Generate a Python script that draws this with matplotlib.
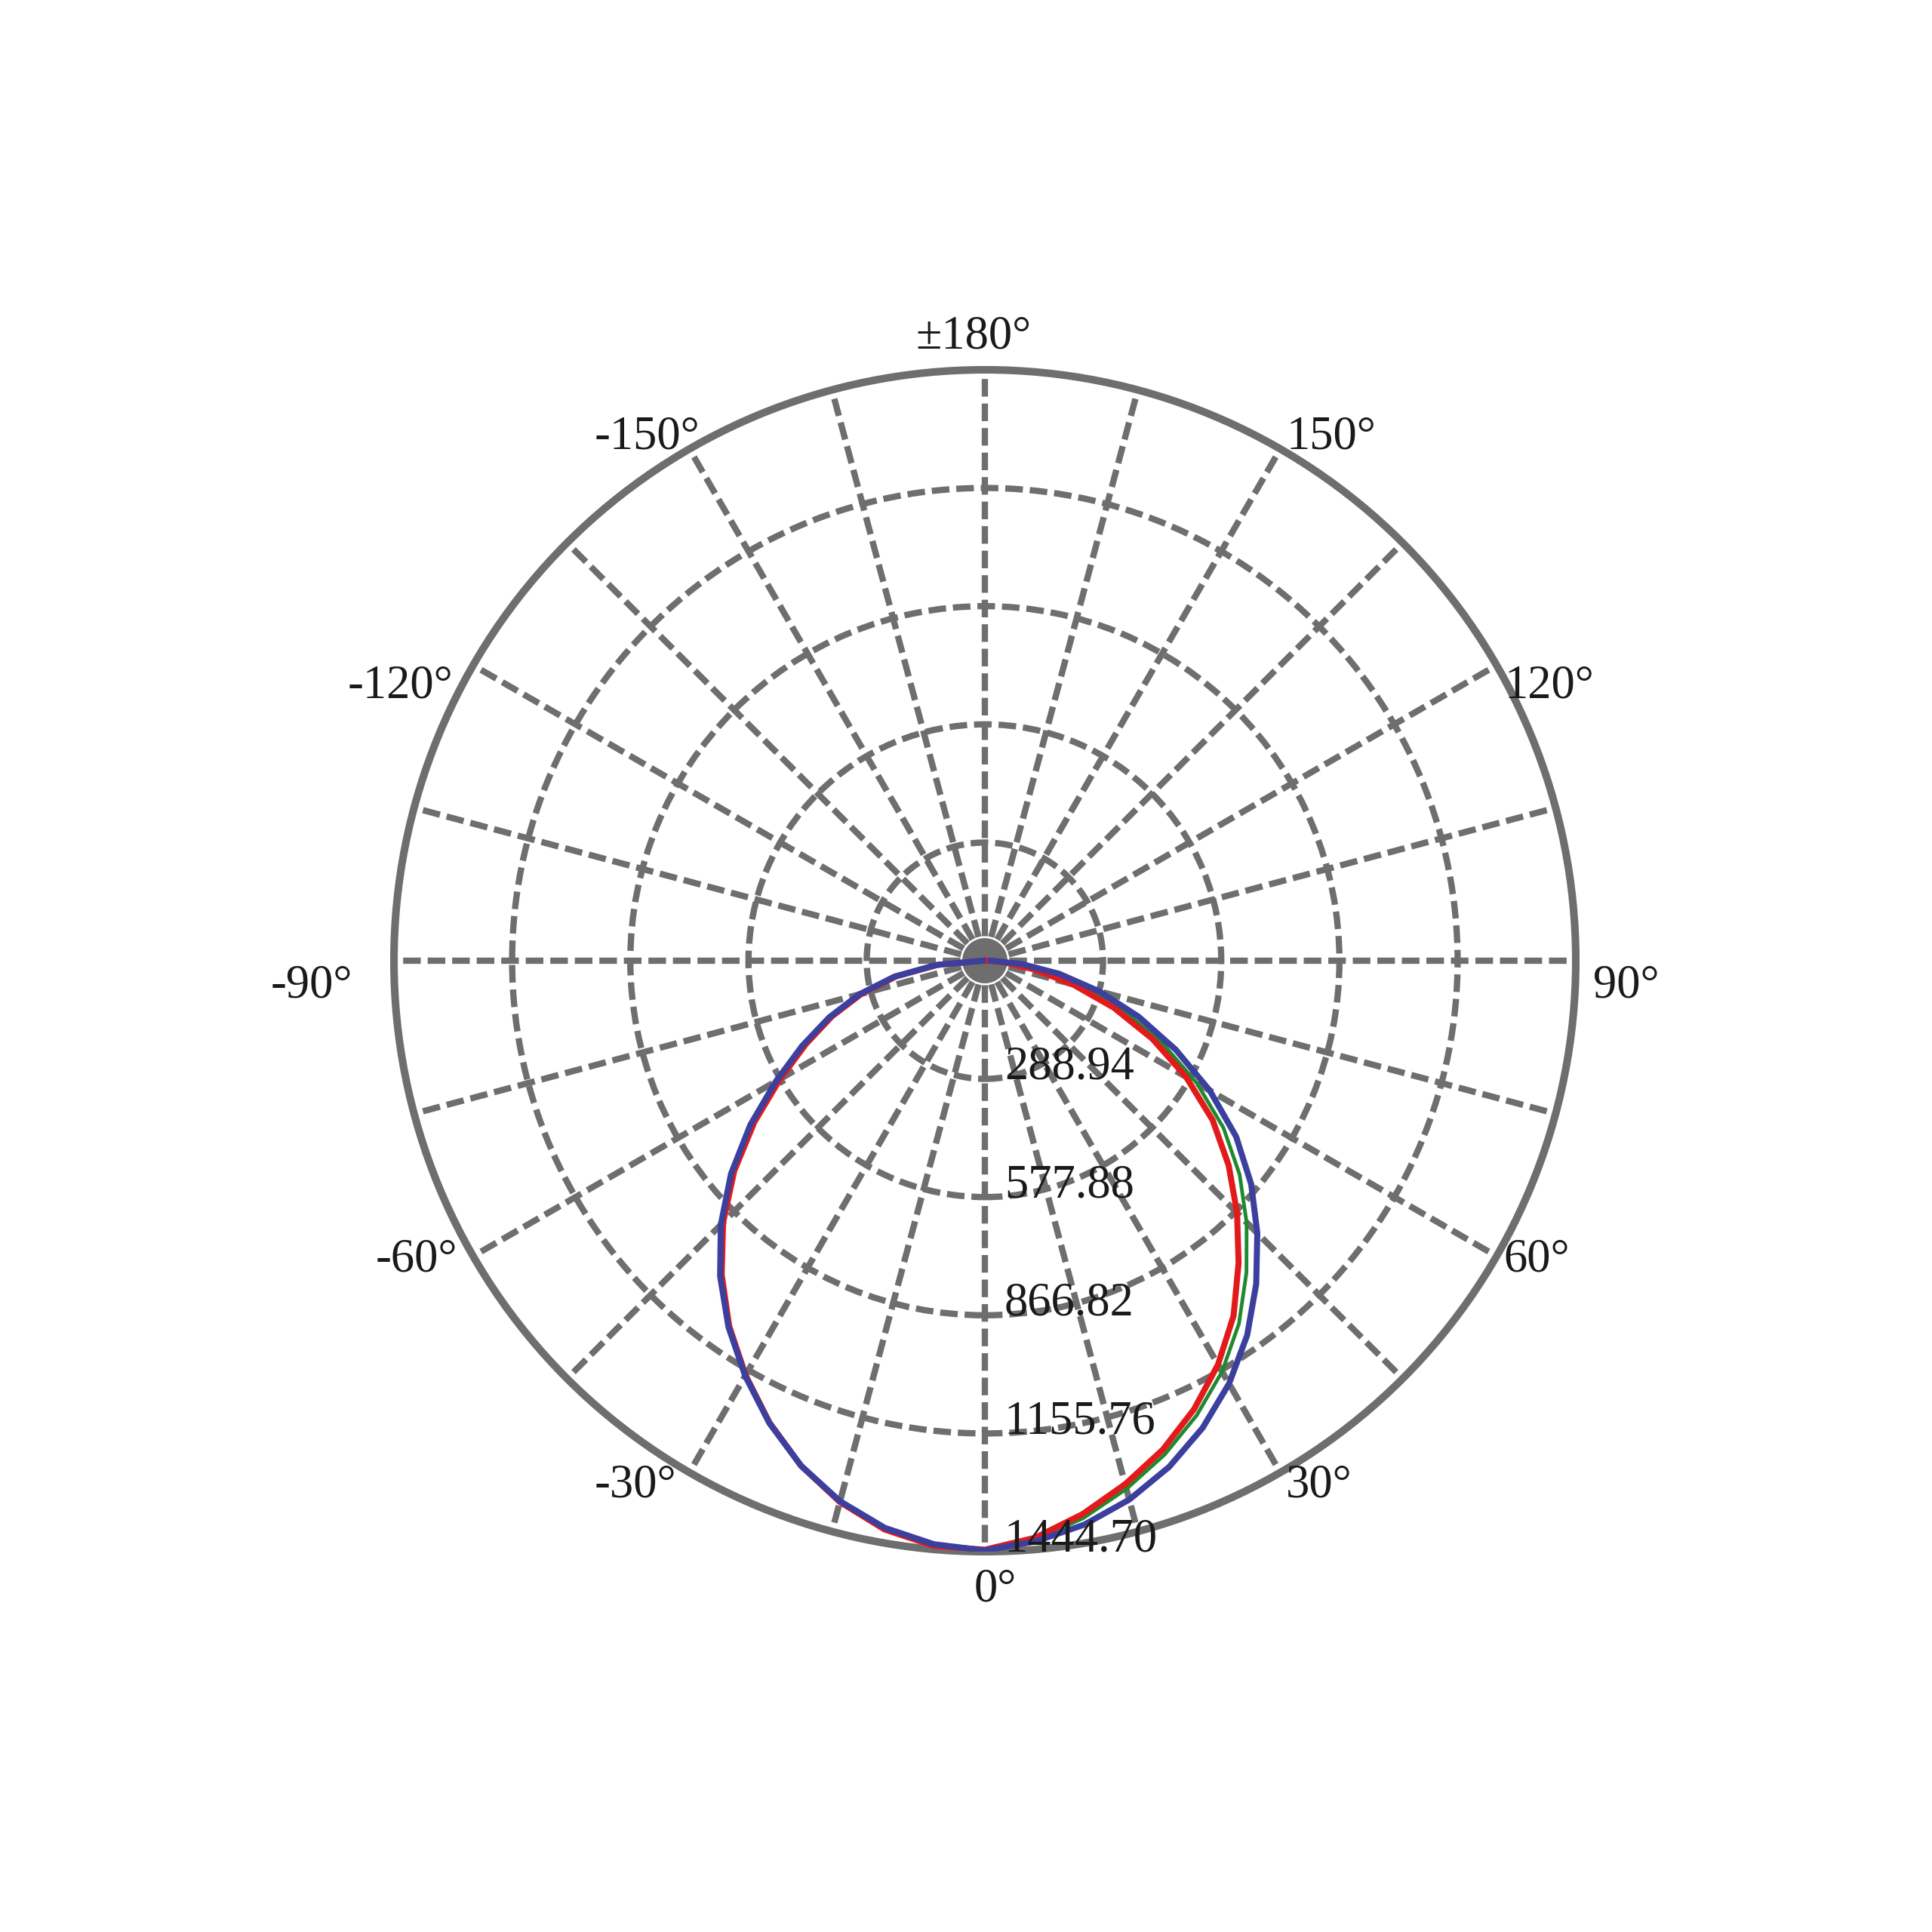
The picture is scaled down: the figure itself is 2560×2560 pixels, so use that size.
import matplotlib.pyplot as plt
import numpy as np

# luminous intensity curves, angles in degrees (0 = bottom, positive to the right)
theta_deg = [-90, -85, -80, -75, -70, -65, -60, -55, -50, -45, -40, -35, -30, -25, -20, -15, -10, -5,
             0, 5, 10, 15, 20, 25, 30, 35, 40, 45, 50, 55, 60, 65, 70, 75, 80, 85, 90]
blue_vals = [5, 120, 225, 318, 405, 493, 590, 700, 810, 913, 1007, 1093, 1172, 1247, 1314, 1368, 1408, 1432,
             1442, 1425, 1400, 1364, 1317, 1260, 1194, 1118, 1032, 942, 850, 750, 635, 515, 400, 290, 185, 90, 15]
red_vals = [3, 115, 220, 312, 398, 483, 578, 688, 800, 905, 1001, 1090, 1170, 1246, 1314, 1370, 1412, 1436,
            1440, 1416, 1374, 1325, 1272, 1210, 1140, 1060, 965, 872, 778, 680, 568, 452, 335, 222, 122, 48, 5]
green_vals = [4, 118, 222, 315, 401, 488, 584, 694, 805, 909, 1004, 1091, 1171, 1246, 1314, 1369, 1410, 1434,
              1441, 1420, 1384, 1337, 1285, 1226, 1160, 1083, 995, 905, 813, 712, 598, 480, 365, 252, 148, 62, 8]

r_ticks = [288.94, 577.88, 866.82, 1155.76]
r_max = 1444.70
r_labels = ["288.94", "577.88", "866.82", "1155.76", "1444.70"]

ang_ticks = [0, 30, 60, 90, 120, 150, 180, -150, -120, -90, -60, -30]
ang_labels = ["0°", "30°", "60°", "90°", "120°", "150°", "±180°", "-150°", "-120°", "-90°", "-60°", "-30°"]
# label offsets in pixels from the end of each spoke (right, down)
ang_offsets = [(14, 51), (51, 17), (53, 5), (67, 33), (70, 28), (67, -15), (-15, -43),
               (-56, -15), (-96, 28), (-109, 34), (-75, 5), (-72, 17)]

grid_c = "#6e6e6e"
txt_c = "#1a1a1a"
plt.rcParams['font.family'] = ['Liberation Serif', 'DejaVu Serif']

W = 2560
cx, cy, R = 1305, 1273, 783
fig = plt.figure(figsize=(10.24, 10.24), dpi=250)
ax = fig.add_axes([(cx - R) / W, (W - cy - R) / W, 2 * R / W, 2 * R / W], projection='polar')
ax.set_theta_zero_location('S')
ax.set_theta_direction(1)
ax.set_rlim(0, r_max)

ax.set_thetagrids(np.arange(0, 360, 15), labels=[])
ax.set_rgrids(r_ticks, labels=[])
ax.grid(True, color=grid_c, lw=2.4, linestyle=(0, (2.8, 1.1)))
ax.spines['polar'].set_color(grid_c)
ax.spines['polar'].set_linewidth(2.9)
ax.tick_params(length=0)

# white ring and grey dot at the centre
full = np.linspace(0, 2 * np.pi, 200)
ax.fill(full, np.full(200, 72), color='white', zorder=1.5)
ax.fill(full, np.full(200, 52), color=grid_c, zorder=1.6)

th = np.radians(theta_deg)
ax.plot(th, green_vals, color='#1e8a2e', lw=1.4, zorder=3)
ax.plot(th, red_vals, color='#e31a1c', lw=2.3, zorder=4)
ax.plot(th, blue_vals, color='#3b3f9e', lw=2.3, zorder=5)

for rv, lab in zip(r_ticks + [r_max], r_labels):
    ax.annotate(lab, xy=(0, rv), xytext=(26, 15), textcoords='offset pixels',
                ha='left', va='center', fontsize=18, color=txt_c, zorder=6)

for a, lab, (dx, dy) in zip(ang_ticks, ang_labels, ang_offsets):
    ax.annotate(lab, xy=(np.radians(a), r_max), xytext=(dx, -dy), textcoords='offset pixels',
                ha='center', va='center', fontsize=18, color=txt_c, annotation_clip=False)

fig.savefig('out.png', dpi=250, facecolor='white')
